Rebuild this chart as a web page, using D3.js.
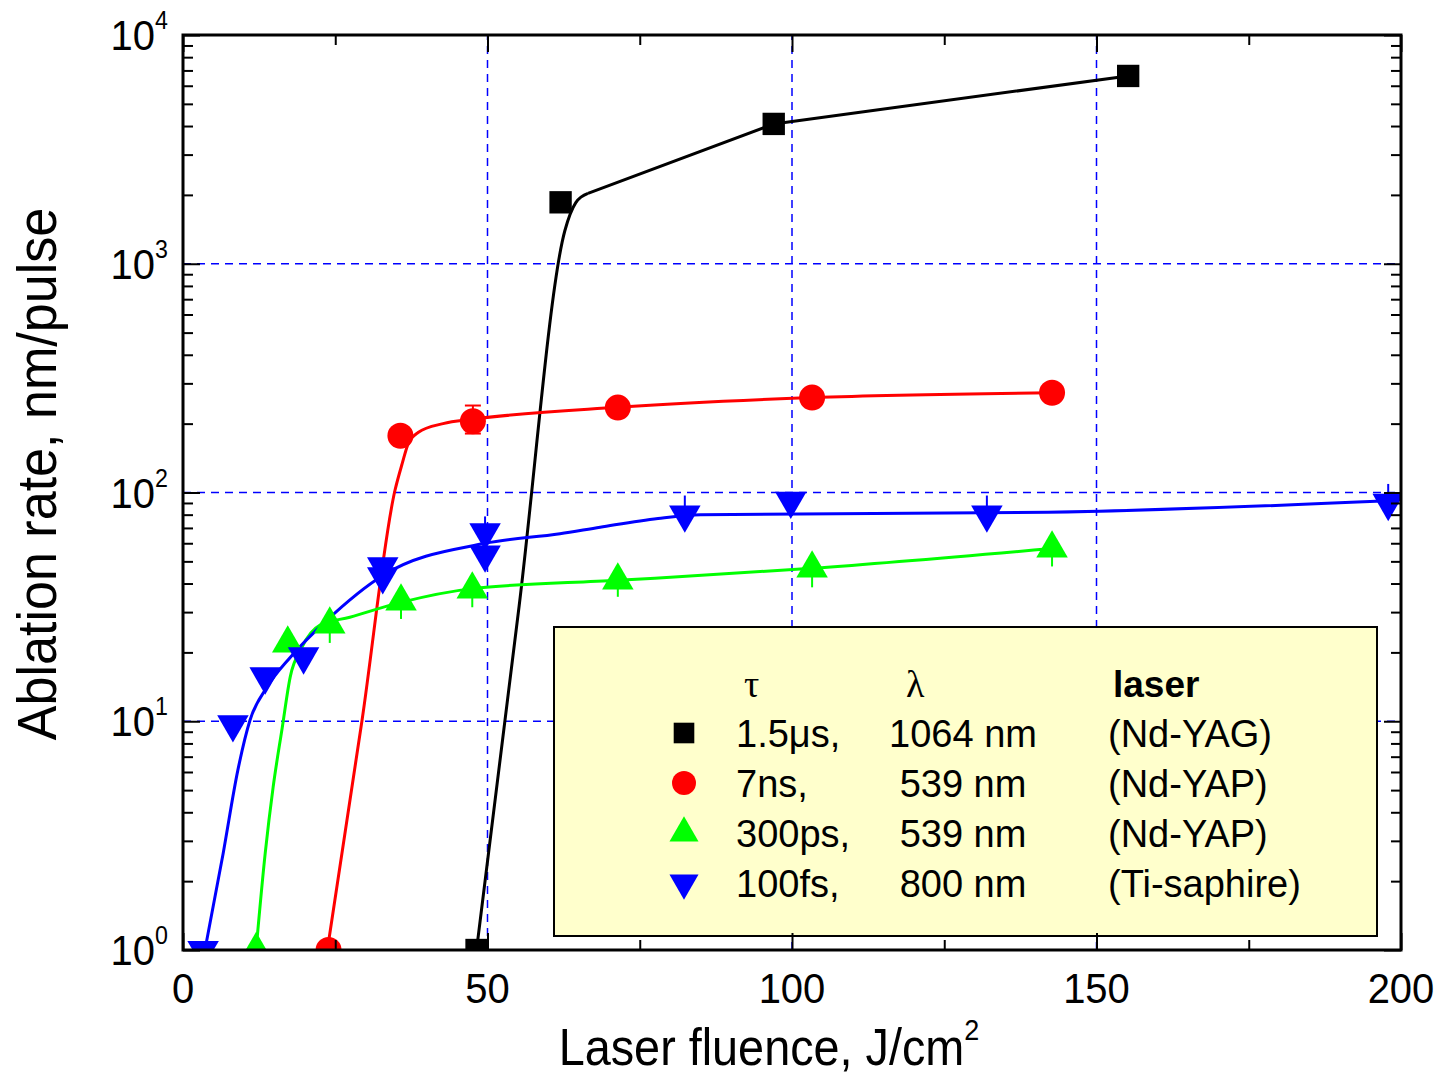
<!DOCTYPE html>
<html>
<head>
<meta charset="utf-8">
<script src="https://cdn.jsdelivr.net/npm/d3@7"></script>
<style>
body { margin: 0; background: #fff; }
svg { display: block; }
</style>
</head>
<body>
<svg id="chart" width="1439" height="1078"></svg>
<script>
// measured points (fluence J/cm2, rate nm/pulse)
var blackX = [48.2, 62.0, 97.0, 155.2]
var blackY = [1, 1856, 4086, 6622]
var redX = [23.9, 35.7, 47.6, 71.4, 103.3, 142.7]
var redY = [1, 177, 205, 235, 260, 273]
var greenX = [12.0, 17.2, 24.1, 35.8, 47.5, 71.4, 103.3, 142.7]
var greenY = [1, 21.9, 26.5, 33.4, 37.7, 41.3, 46.6, 57]
var blueX = [3.3, 8.2, 13.5, 19.8, 32.8, 32.8, 49.6, 49.6, 82.4, 99.8, 132, 197.9]
var blueY = [1, 9.7, 15.7, 19.2, 47.5, 43, 67, 53.5, 80, 92, 80, 90]

// error bars (null = none drawn)
var redLo = [null, null, 181, null, null, null]
var redHi = [null, null, 240, null, null, null]
var greenLo = [null, null, 22, 28, 31.5, 35, 38.5, 47.5]
var blueHi = [null, null, null, null, null, null, 78.6, null, 97, null, 97, 109]

// fitted curves
var blackFitX = [48.2, 55.2, 62.7, 64.5, 66.5, 97, 155.2]
var blackFitY = [1, 32, 1394, 1850, 2030, 4086, 6622]
var redFitX = [23.7, 29.4, 34.8, 36, 37, 38.6, 42.7, 47.6, 71.4, 103.3, 142.7]
var redFitY = [1, 10.1, 102, 134, 164, 183, 200, 209, 236, 260, 273]
var greenFitX = [12, 13.5, 14.8, 16.3, 17.6, 19.5, 22.5, 27.4, 35.6, 47.5, 71.4, 103.3, 142.7]
var greenFitY = [1, 2.65, 5.15, 9.4, 15.6, 21, 26.3, 28.5, 33, 38, 41.3, 46.6, 56.9]
var blueFitX = [3.6, 6.6, 9, 11, 13.8, 17.6, 23.6, 32.8, 49.6, 61.9, 68.5, 78, 85, 142, 198]
var blueFitY = [1, 2.65, 6.1, 10.1, 14.1, 19, 27.6, 43.4, 60, 66, 70.5, 77, 80, 82, 92]

var xTicks = [0, 50, 100, 150, 200]
var xMinor = [25, 75, 125, 175]
var yTicks = [1, 10, 100, 1000, 10000]
var yExp = ["0", "1", "2", "3", "4"]
var gridX = [50, 100, 150]
var gridY = [10, 100, 1000]

var legendTau = ["1.5\u03bcs,", "7ns,", "300ps,", "100fs,"]
var legendLambda = ["1064 nm", "539 nm", "539 nm", "800 nm"]
var legendLaser = ["(Nd-YAG)", "(Nd-YAP)", "(Nd-YAP)", "(Ti-saphire)"]

function init() {
    var svg = d3.select("#chart")
    var left = 183, right = 1401, top = 35, bottom = 950
    var font = "'Liberation Sans', Arial, sans-serif"

    var x = d3.scaleLinear().domain([0, 200]).range([left, right])
    var y = d3.scaleLog().domain([1, 10000]).range([bottom, top])

    svg.append("defs").append("clipPath").attr("id", "plotclip")
        .append("rect")
        .attr("x", left).attr("y", top)
        .attr("width", right - left).attr("height", bottom - top)

    // grid
    var grid = svg.append("g")
        .attr("stroke", "#0000ff")
        .attr("stroke-width", 1.5)
        .attr("stroke-dasharray", "8,6")
    grid.selectAll(".gx").data(gridX).enter().append("line")
        .attr("x1", d => x(d)).attr("x2", d => x(d))
        .attr("y1", bottom).attr("y2", top)
    grid.selectAll(".gy").data(gridY).enter().append("line")
        .attr("x1", left).attr("x2", right)
        .attr("y1", d => y(d)).attr("y2", d => y(d))

    // lin = index after which the fit is drawn as straight segments
    var series = [
        {x: blackX, y: blackY, fx: blackFitX, fy: blackFitY, lin: 4, color: "#000000", symbol: d3.symbolSquare, size: 500, rot: 0, lo: null, hi: null, cap: false},
        {x: redX, y: redY, fx: redFitX, fy: redFitY, lin: null, color: "#ff0000", symbol: d3.symbolCircle, size: 531, rot: 0, lo: redLo, hi: redHi, cap: true},
        {x: greenX, y: greenY, fx: greenFitX, fy: greenFitY, lin: null, color: "#00ff00", symbol: d3.symbolTriangle, size: 430, rot: 0, lo: greenLo, hi: null, cap: false},
        {x: blueX, y: blueY, fx: blueFitX, fy: blueFitY, lin: null, color: "#0000ff", symbol: d3.symbolTriangle, size: 430, rot: 180, lo: null, hi: blueHi, cap: false}
    ]

    var plot = svg.append("g").attr("clip-path", "url(#plotclip)")
    var smooth = d3.line()
        .x(d => x(d[0]))
        .y(d => y(d[1]))
        .curve(d3.curveMonotoneX)
    var straight = d3.line()
        .x(d => x(d[0]))
        .y(d => y(d[1]))

    series.forEach(s => {
        var pts = s.fx.map((v, i) => [v, s.fy[i]])
        var parts = s.lin == null
            ? [[pts, smooth]]
            : [[pts.slice(0, s.lin + 1), smooth], [pts.slice(s.lin), straight]]
        parts.forEach(p => {
            plot.append("path")
                .datum(p[0])
                .attr("d", p[1])
                .attr("fill", "none")
                .attr("stroke", s.color)
                .attr("stroke-width", 3)
                .attr("stroke-linejoin", "round")
        })
    })

    series.forEach(s => {
        var pts = s.x.map((v, i) => ({x: v, y: s.y[i], lo: s.lo ? s.lo[i] : null, hi: s.hi ? s.hi[i] : null}))
        plot.selectAll(null)
            .data(pts)
            .enter()
            .append("path")
            .attr("d", d3.symbol().type(s.symbol).size(s.size))
            .attr("transform", d => `translate(${x(d.x)},${y(d.y)}) rotate(${s.rot})`)
            .attr("fill", s.color)

        var bars = pts.filter(d => d.lo != null || d.hi != null)
        bars.forEach(d => {
            var y1 = y(d.lo != null ? d.lo : d.y)
            var y2 = y(d.hi != null ? d.hi : d.y)
            plot.append("line")
                .attr("x1", x(d.x)).attr("x2", x(d.x))
                .attr("y1", y1).attr("y2", y2)
                .attr("stroke", s.color).attr("stroke-width", 2)
            if (s.cap) {
                [y1, y2].forEach(yy => {
                    plot.append("line")
                        .attr("x1", x(d.x) - 8).attr("x2", x(d.x) + 8)
                        .attr("y1", yy).attr("y2", yy)
                        .attr("stroke", s.color).attr("stroke-width", 2)
                })
            }
        })
    })

    // legend
    var lg = svg.append("g")
    lg.append("rect")
        .attr("x", 554).attr("y", 627)
        .attr("width", 823).attr("height", 309)
        .attr("fill", "#ffffcc")
        .attr("stroke", "#000")
        .attr("stroke-width", 2)

    lg.append("text").text("\u03c4")
        .attr("x", 744).attr("y", 697)
        .style("font-family", "'Liberation Serif', serif").style("font-size", "38px")
    lg.append("text").text("\u03bb")
        .attr("x", 906).attr("y", 697)
        .style("font-family", "'Liberation Serif', serif").style("font-size", "38px")
    lg.append("text").text("laser")
        .attr("x", 1113).attr("y", 697)
        .style("font-family", font).style("font-size", "37px").style("font-weight", "bold")

    series.forEach((s, i) => {
        var cy = 733 + i * 50
        lg.append("path")
            .attr("d", d3.symbol().type(s.symbol).size(s.size * 0.85))
            .attr("transform", `translate(684,${cy}) rotate(${s.rot})`)
            .attr("fill", s.color)
        lg.append("text").text(legendTau[i])
            .attr("x", 736).attr("y", cy + 14)
            .style("font-family", font).style("font-size", "38px")
        lg.append("text").text(legendLambda[i])
            .attr("x", 963).attr("y", cy + 14)
            .attr("text-anchor", "middle")
            .style("font-family", font).style("font-size", "38px")
        lg.append("text").text(legendLaser[i])
            .attr("x", 1108).attr("y", cy + 14)
            .style("font-family", font).style("font-size", "38px")
    })

    // axes
    var minorY = []
    for (var k = 0; k < 4; k++) {
        for (var m = 2; m < 10; m++) minorY.push(m * Math.pow(10, k))
    }

    function styleAxis(g) {
        g.select(".domain").remove()
        g.selectAll(".tick line").attr("stroke", "#000").attr("stroke-width", 2)
        g.selectAll(".tick text").remove()
    }

    svg.append("g").attr("transform", `translate(0,${bottom})`)
        .call(d3.axisBottom(x).tickValues(xTicks).tickSize(-17)).call(styleAxis)
    svg.append("g").attr("transform", `translate(0,${bottom})`)
        .call(d3.axisBottom(x).tickValues(xMinor).tickSize(-10)).call(styleAxis)
    svg.append("g").attr("transform", `translate(0,${top})`)
        .call(d3.axisTop(x).tickValues(xTicks).tickSize(-17)).call(styleAxis)
    svg.append("g").attr("transform", `translate(0,${top})`)
        .call(d3.axisTop(x).tickValues(xMinor).tickSize(-10)).call(styleAxis)
    svg.append("g").attr("transform", `translate(${left},0)`)
        .call(d3.axisLeft(y).tickValues(yTicks).tickSize(-17)).call(styleAxis)
    svg.append("g").attr("transform", `translate(${left},0)`)
        .call(d3.axisLeft(y).tickValues(minorY).tickSize(-10)).call(styleAxis)
    svg.append("g").attr("transform", `translate(${right},0)`)
        .call(d3.axisRight(y).tickValues(yTicks).tickSize(-17)).call(styleAxis)
    svg.append("g").attr("transform", `translate(${right},0)`)
        .call(d3.axisRight(y).tickValues(minorY).tickSize(-10)).call(styleAxis)

    svg.append("rect")
        .attr("x", left).attr("y", top)
        .attr("width", right - left).attr("height", bottom - top)
        .attr("fill", "none")
        .attr("stroke", "#000")
        .attr("stroke-width", 3)

    // tick labels
    svg.selectAll(".xlab").data(xTicks).enter().append("g")
        .attr("transform", d => `translate(${x(d)},1003) scale(0.93,1)`)
        .append("text").text(d => d)
        .attr("text-anchor", "middle")
        .style("font-family", font).style("font-size", "43px")

    var ylab = svg.selectAll(".ylab").data(yTicks).enter().append("g")
        .attr("transform", d => `translate(168,${y(d) + 15}) scale(0.93,1)`)
        .append("text")
        .attr("text-anchor", "end")
        .style("font-family", font).style("font-size", "43px")
    ylab.append("tspan").text("10")
    ylab.append("tspan").text((d, i) => yExp[i])
        .attr("dy", -21).style("font-size", "25px")

    // axis titles
    var xt = svg.append("g").attr("transform", "translate(769,1065) scale(0.9,1)")
        .append("text")
        .attr("text-anchor", "middle")
        .style("font-family", font).style("font-size", "52px")
    xt.append("tspan").text("Laser fluence, J/cm")
    xt.append("tspan").text("2").attr("dy", -25).style("font-size", "30px")

    svg.append("g").attr("transform", "translate(56,474) rotate(-90) scale(0.93,1)")
        .append("text").text("Ablation rate, nm/pulse")
        .attr("text-anchor", "middle")
        .style("font-family", font).style("font-size", "56px")
}

window.onload = init
</script>
</body>
</html>
